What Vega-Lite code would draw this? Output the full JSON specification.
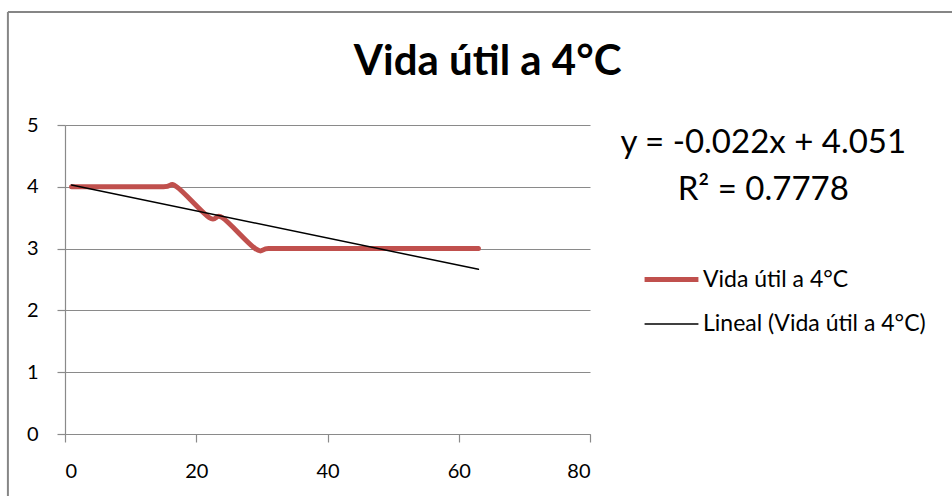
{
  "$schema": "https://vega.github.io/schema/vega-lite/v6.json",
  "width": 525,
  "height": 309,
  "autosize": {"type": "none"},
  "padding": {"left": 65, "top": 125, "right": 362, "bottom": 62},
  "background": "white",
  "config": {
    "font": "Lato",
    "view": {"stroke": null},
    "axis": {
      "labelFont": "Lato",
      "labelFontSize": 20,
      "labelColor": "#000000",
      "domainColor": "#8a8a8a",
      "tickColor": "#8a8a8a",
      "gridColor": "#8a8a8a",
      "domainWidth": 1.2,
      "tickWidth": 1.2,
      "gridWidth": 1.2,
      "tickSize": 8,
      "title": null
    }
  },
  "datasets": {
    "serie": [
      {"dia": 1, "valor": 4, "serie": "Vida útil a 4°C"},
      {"dia": 8, "valor": 4, "serie": "Vida útil a 4°C"},
      {"dia": 15, "valor": 4, "serie": "Vida útil a 4°C"},
      {"dia": 17, "valor": 4, "serie": "Vida útil a 4°C"},
      {"dia": 22, "valor": 3.5, "serie": "Vida útil a 4°C"},
      {"dia": 24, "valor": 3.5, "serie": "Vida útil a 4°C"},
      {"dia": 29, "valor": 3, "serie": "Vida útil a 4°C"},
      {"dia": 31, "valor": 3, "serie": "Vida útil a 4°C"},
      {"dia": 36, "valor": 3, "serie": "Vida útil a 4°C"},
      {"dia": 43, "valor": 3, "serie": "Vida útil a 4°C"},
      {"dia": 50, "valor": 3, "serie": "Vida útil a 4°C"},
      {"dia": 57, "valor": 3, "serie": "Vida útil a 4°C"},
      {"dia": 63, "valor": 3, "serie": "Vida útil a 4°C"},
      {"dia": 1, "valor": 4.029, "serie": "Lineal (Vida útil a 4°C)"},
      {"dia": 63, "valor": 2.665, "serie": "Lineal (Vida útil a 4°C)"}
    ]
  },
  "layer": [
    {
      "description": "chart-area frame: left edge",
      "data": {"values": [{}]},
      "mark": {"type": "rule", "color": "#868686", "strokeWidth": 2, "clip": false},
      "encoding": {
        "x": {"datum": -8.7, "type": "quantitative"},
        "y": {"datum": 6.83, "type": "quantitative"},
        "y2": {"datum": -1.2}
      }
    },
    {
      "description": "chart-area frame: top edge",
      "data": {"values": [{}]},
      "mark": {"type": "rule", "color": "#868686", "strokeWidth": 2, "clip": false},
      "encoding": {
        "x": {"datum": -8.7, "type": "quantitative"},
        "x2": {"datum": 136},
        "y": {"datum": 6.83, "type": "quantitative"}
      }
    },
    {
      "description": "chart title",
      "data": {"values": [{"titulo": "Vida útil a 4°C"}]},
      "mark": {"type": "text", "font": "Lato", "fontSize": 42, "fontWeight": "bold", "color": "#000000", "align": "center", "baseline": "alphabetic"},
      "encoding": {
        "text": {"field": "titulo"},
        "x": {"datum": 64.4, "type": "quantitative"},
        "y": {"datum": 5.81, "type": "quantitative"}
      }
    },
    {
      "data": {"name": "serie"},
      "mark": {"type": "line", "interpolate": "cardinal", "strokeCap": "round", "strokeJoin": "round"},
      "encoding": {
        "x": {
          "field": "dia",
          "type": "quantitative",
          "scale": {"domain": [0, 80], "nice": false},
          "axis": {"values": [0, 20, 40, 60, 80], "grid": false, "labelPadding": 19}
        },
        "y": {
          "field": "valor",
          "type": "quantitative",
          "scale": {"domain": [0, 5], "nice": false},
          "axis": {"values": [0, 1, 2, 3, 4, 5], "format": "d", "grid": true, "labelPadding": 19}
        },
        "color": {
          "field": "serie",
          "type": "nominal",
          "scale": {"domain": ["Vida útil a 4°C", "Lineal (Vida útil a 4°C)"], "range": ["#C0504D", "#000000"]},
          "legend": {
            "title": null,
            "orient": "none",
            "legendX": 577,
            "legendY": 125,
            "symbolType": "stroke",
            "symbolSize": 2900,
            "labelFont": "Lato",
            "labelFontSize": 23,
            "labelColor": "#000000",
            "labelLimit": 400,
            "labelOffset": 2,
            "rowPadding": 4
          }
        },
        "strokeWidth": {
          "field": "serie",
          "type": "nominal",
          "scale": {"domain": ["Vida útil a 4°C", "Lineal (Vida útil a 4°C)"], "range": [5, 1.5]},
          "legend": null
        }
      }
    },
    {
      "data": {"values": [{"linea": "y = -0.022x + 4.051"}]},
      "mark": {"type": "text", "font": "Lato", "fontSize": 33, "color": "#000000", "align": "center", "baseline": "middle"},
      "encoding": {
        "text": {"field": "linea"},
        "x": {"datum": 106.4, "type": "quantitative"},
        "y": {"datum": 4.71, "type": "quantitative"}
      }
    },
    {
      "data": {"values": [{"linea": "R² = 0.7778"}]},
      "mark": {"type": "text", "font": "Lato", "fontSize": 33, "color": "#000000", "align": "center", "baseline": "middle"},
      "encoding": {
        "text": {"field": "linea"},
        "x": {"datum": 106.4, "type": "quantitative"},
        "y": {"datum": 3.95, "type": "quantitative"}
      }
    }
  ]
}
